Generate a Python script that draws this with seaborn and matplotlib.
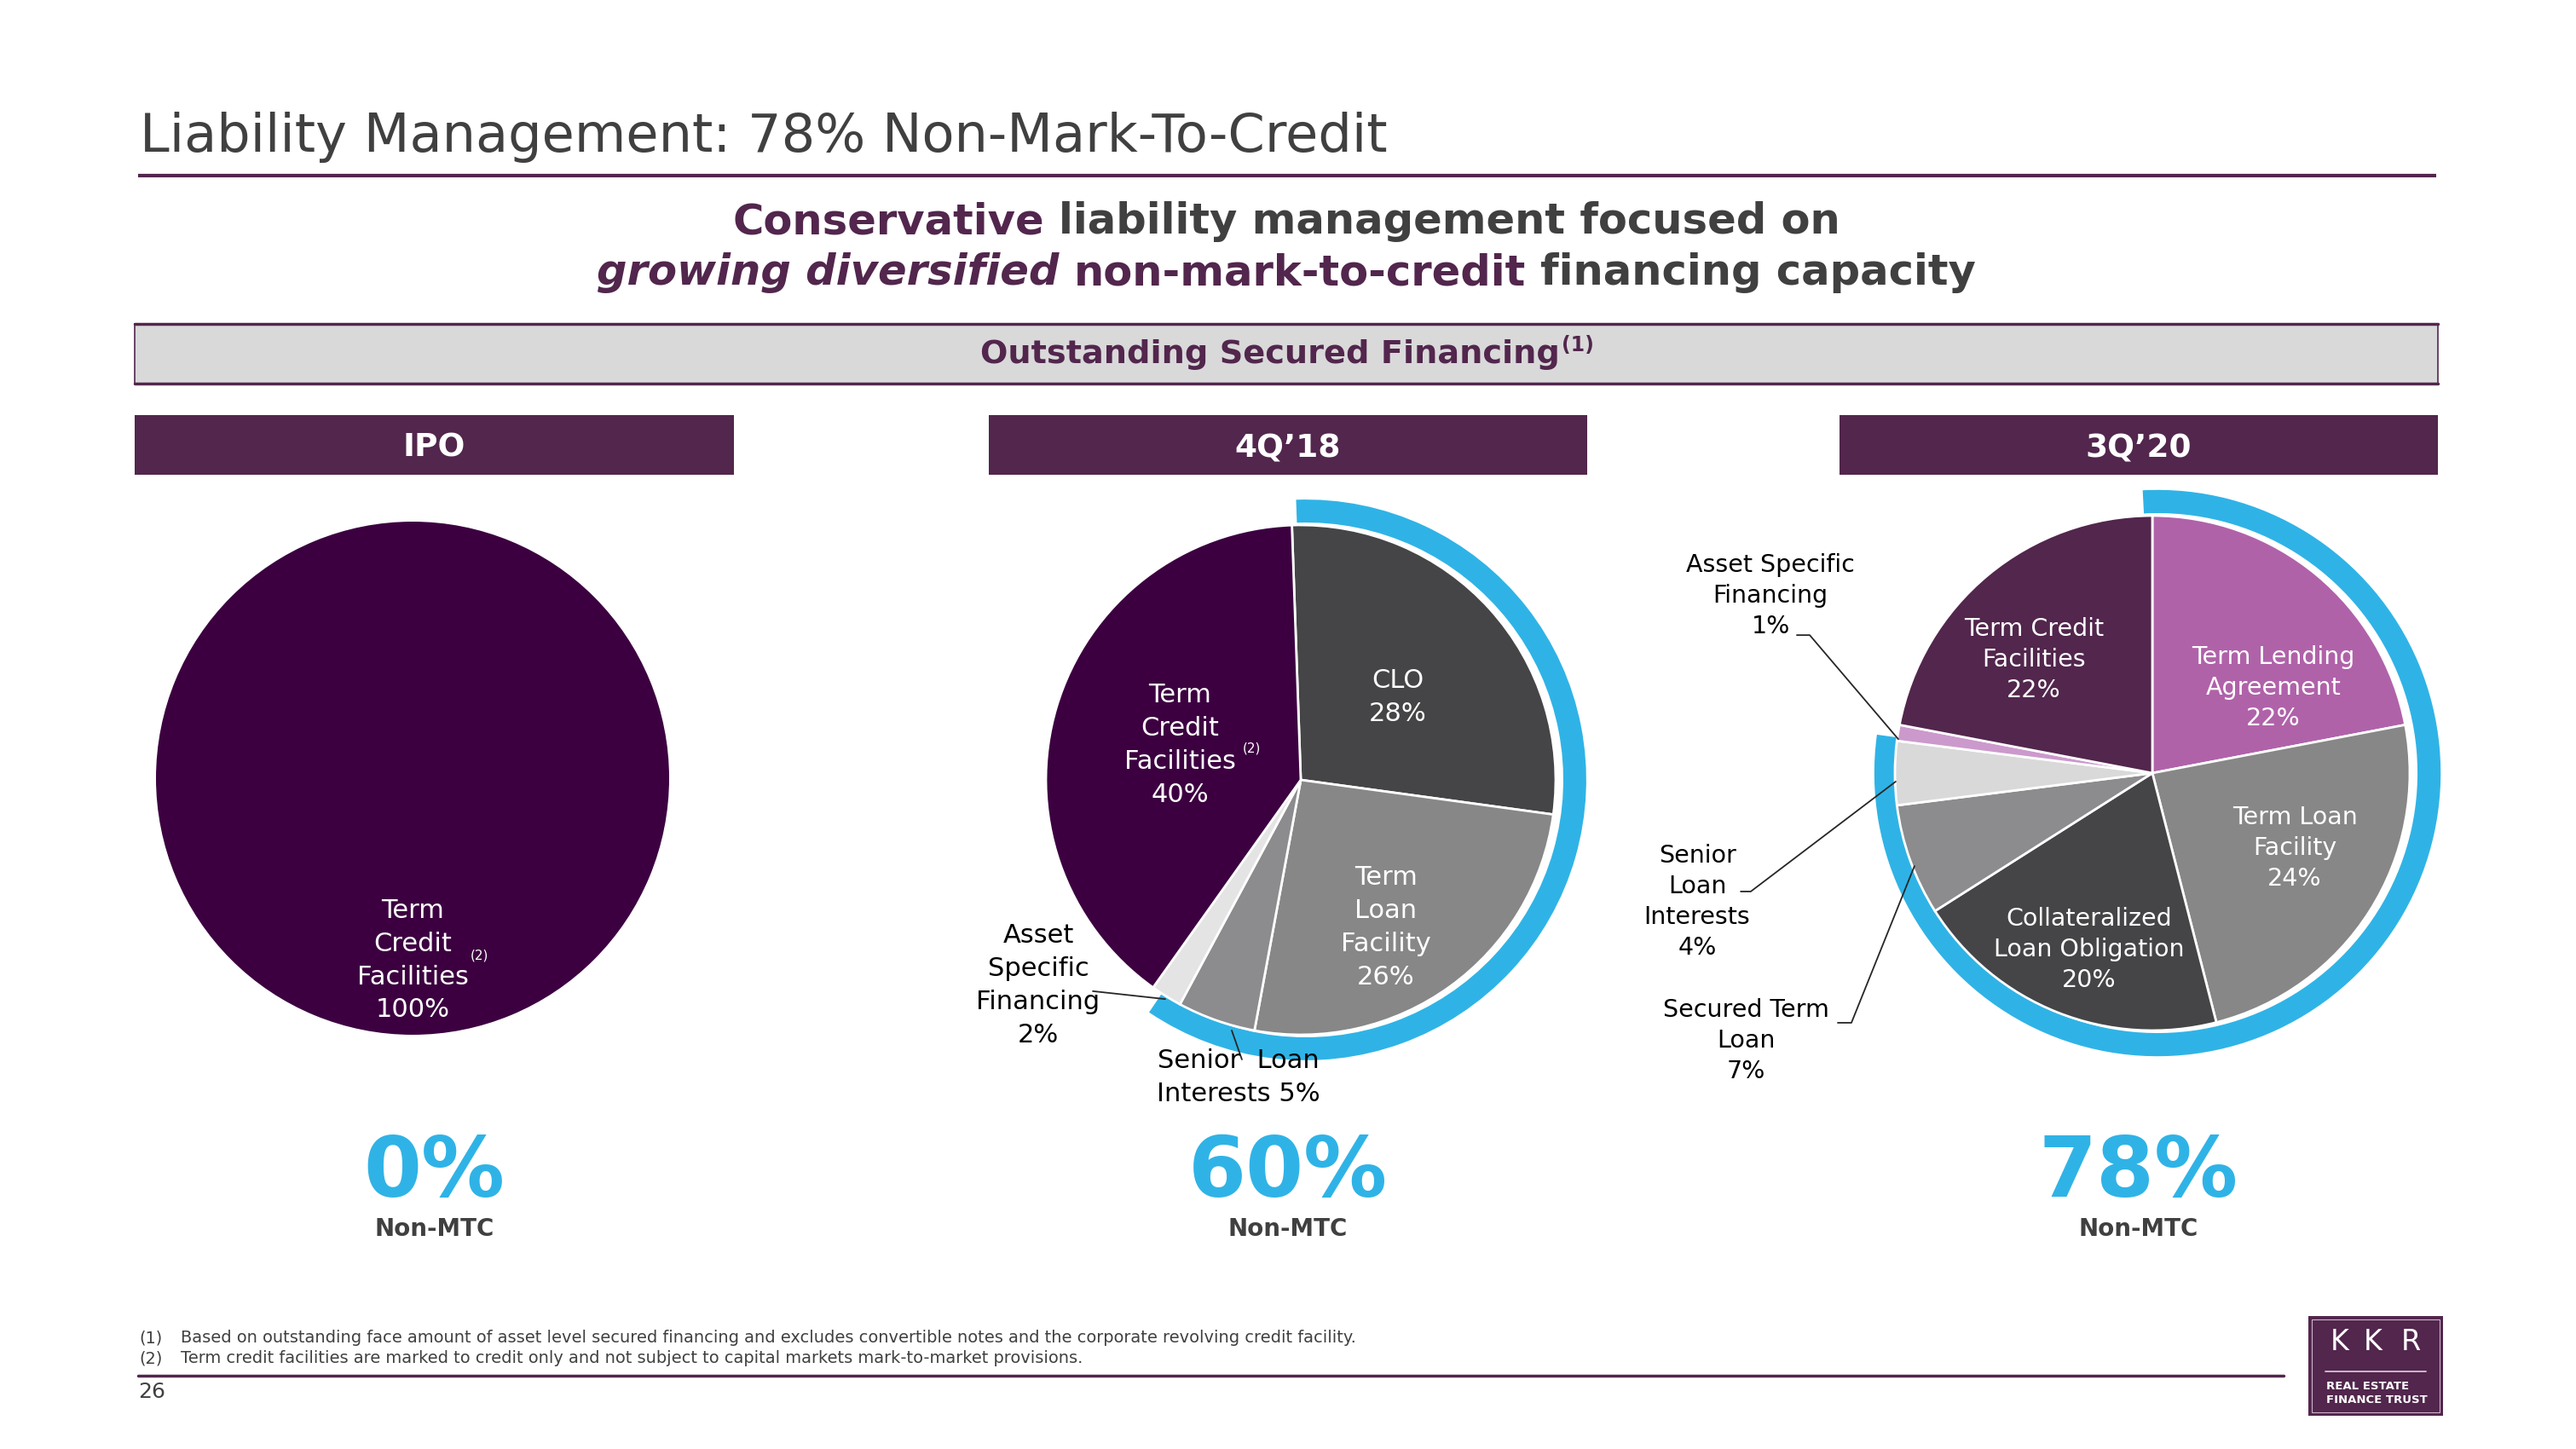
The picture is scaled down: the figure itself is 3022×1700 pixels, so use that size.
import matplotlib
matplotlib.use("Agg")
import matplotlib.pyplot as plt
import seaborn as sns
from matplotlib.patches import Wedge, Rectangle

# ---------------- data ----------------
title_text = "Liability Management: 78% Non-Mark-To-Credit"
box_title = "Outstanding Secured Financing"
periods = ["IPO", "4Q\u201918", "3Q\u201920"]
non_mtc_pct = [0, 60, 78]
non_mtc_caption = "Non-MTC"

ipo_segments = ["Term Credit Facilities"]
ipo_values = [100]
ipo_label_fmt = ["Term\nCredit\nFacilities\n{v}%"]

q418_segments = ["CLO", "Term Loan Facility", "Senior Loan Interests",
                 "Asset Specific Financing", "Term Credit Facilities"]
q418_values = [28, 26, 5, 2, 40]
q418_label_fmt = ["CLO\n{v}%", "Term\nLoan\nFacility\n{v}%",
                  "Senior  Loan\nInterests {v}%",
                  "Asset\nSpecific\nFinancing\n{v}%",
                  "Term\nCredit\nFacilities\n{v}%"]

q320_segments = ["Term Lending Agreement", "Term Loan Facility",
                 "Collateralized Loan Obligation", "Secured Term Loan",
                 "Senior Loan Interests", "Asset Specific Financing",
                 "Term Credit Facilities"]
q320_values = [22, 24, 20, 7, 4, 1, 22]
q320_label_fmt = ["Term Lending\nAgreement\n{v}%", "Term Loan\nFacility\n{v}%",
                  "Collateralized\nLoan Obligation\n{v}%", "Secured Term\nLoan\n{v}%",
                  "Senior\nLoan\nInterests\n{v}%", "Asset Specific\nFinancing\n{v}%",
                  "Term Credit\nFacilities\n{v}%"]

footnote_marks = ["(1)", "(2)"]
footnotes = ["Based on outstanding face amount of asset level secured financing and excludes "
             "convertible notes and the corporate revolving credit facility.",
             "Term credit facilities are marked to credit only and not subject to capital "
             "markets mark-to-market provisions."]
page_number = "26"

# ---------------- style ----------------
sns.set_theme(style="white")
plt.rcParams['font.family'] = ['DejaVu Sans']

PURPLE = "#52264D"
DEEP = "#3C0040"
BLUE = "#2FB3E6"
TXT = "#404040"
ipo_colors = [DEEP]
q418_colors = ["#454547", "#878787", "#8C8C8E", "#E4E4E4", DEEP]
q320_colors = ["#B062A9", "#878787", "#454547", "#8C8C8E", "#D9D9D9", "#CC99CC", PURPLE]

W, H = 3022, 1700
fig = plt.figure(figsize=(W / 100, H / 100), dpi=100)
fig.patch.set_facecolor("white")
bg = fig.add_axes([0, 0, 1, 1])
bg.set_xlim(0, W)
bg.set_ylim(H, 0)
bg.axis('off')
renderer = fig.canvas.get_renderer()


def width_of(s, **kw):
    t = bg.text(0, 0, s, **kw)
    w = t.get_window_extent(renderer=renderer).width
    t.remove()
    return w


def fit(s, target, **kw):
    return 10.0 * target / width_of(s, fontsize=10, **kw)


# ---- title ----
fs_title = fit(title_text, 1465)
bg.text(164, 178, title_text, fontsize=fs_title, color=TXT, ha='left', va='baseline')
bg.plot([162, 2858], [206, 206], color=PURPLE, lw=3, solid_capstyle='butt')

# ---- subtitle (mixed styles) ----
def rich_line(segments, xc, y, fs):
    sp = width_of("a a", fontsize=fs, fontweight='bold') - width_of("aa", fontsize=fs, fontweight='bold')
    ws = [width_of(s, fontsize=fs, fontweight='bold', fontstyle=st) for s, c, st in segments]
    total = sum(ws) + sp * (len(ws) - 1)
    x = xc - total / 2
    for (s, c, st), w in zip(segments, ws):
        bg.text(x, y, s, fontsize=fs, fontweight='bold', fontstyle=st, color=c,
                ha='left', va='baseline')
        x += w + sp

line1 = [("Conservative", PURPLE, 'normal'), ("liability management focused on", TXT, 'normal')]
line2 = [("growing diversified", PURPLE, 'italic'), ("non-mark-to-credit", PURPLE, 'normal'),
         ("financing capacity", TXT, 'normal')]
fs_sub = 35.7
rich_line(line1, 1509, 274, fs_sub)
rich_line(line2, 1509, 334, fs_sub)

# ---- grey banner ----
bg.add_patch(Rectangle((158, 380), 2702, 70, facecolor="#D9D9D9", edgecolor=PURPLE, lw=1.2))
bg.plot([158, 2860], [380, 380], color=PURPLE, lw=2.5)
bg.plot([158, 2860], [450, 450], color=PURPLE, lw=2.5)
fs_box = 27.5
w_main = width_of(box_title, fontsize=fs_box, fontweight='bold')
w_sup = width_of("(1)", fontsize=17, fontweight='bold')
x0 = 1510 - (w_main + w_sup + 3) / 2
bg.text(x0, 426, box_title, fontsize=fs_box, fontweight='bold', color=PURPLE, ha='left', va='baseline')
bg.text(x0 + w_main + 3, 412, "(1)", fontsize=17, fontweight='bold', color=PURPLE, ha='left', va='baseline')

# ---- period headers, big numbers ----
header_x = [(158, 861), (1160, 1862), (2158, 2860)]
for (xa, xb), lab, pct in zip(header_x, periods, non_mtc_pct):
    bg.add_patch(Rectangle((xa, 487), xb - xa, 70, facecolor=PURPLE, edgecolor='none'))
    xc = (xa + xb) / 2
    bg.text(xc, 536, lab, fontsize=27, fontweight='bold', color='white', ha='center', va='baseline')
    bg.text(xc, 1404, f"{pct}%", fontsize=70.5, fontweight='bold', color=BLUE, ha='center', va='baseline')
    bg.text(xc, 1442, non_mtc_caption, fontsize=20, fontweight='bold', color=TXT, ha='center', va='center')

# ---- pies ----
pies = [
    dict(center=(484, 913), R=301, values=ipo_values, colors=ipo_colors, fmt=ipo_label_fmt,
         start=90, ring_start=92, lw=0, fs=22, ls=1.42,
         pos=[(0.0, -0.71)], lc=['white'],
         sup=(0.226, -0.69), leaders=[]),
    dict(center=(1526, 915), R=299, values=q418_values, colors=q418_colors, fmt=q418_label_fmt,
         start=92, ring_start=92, lw=2, fs=22, ls=1.44,
         pos=[(0.381, 0.324), (0.334, -0.579), (-0.244, -1.167), (-1.030, -0.806), (-0.475, 0.137)],
         lc=['white', 'white', 'black', 'black', 'white'],
         sup=(-0.227, 0.125),
         leaders=[[(-0.816, -0.829), (-0.532, -0.860)],
                  [(-0.271, -0.983), (-0.231, -1.097)]]),
    dict(center=(2525, 907), R=302, values=q320_values, colors=q320_colors, fmt=q320_label_fmt,
         start=90, ring_start=93, lw=2, fs=20.5, ls=1.36,
         pos=[(0.470, 0.331), (0.553, -0.291), (-0.245, -0.685), (-1.579, -1.040),
              (-1.768, -0.500), (-1.483, 0.689), (-0.460, 0.440)],
         lc=['white', 'white', 'white', 'black', 'black', 'black', 'white'],
         sup=None,
         leaders=[[(-1.381, 0.536), (-1.331, 0.536), (-0.987, 0.132)],
                  [(-1.599, -0.460), (-1.560, -0.460), (-0.997, -0.033)],
                  [(-1.222, -0.970), (-1.169, -0.970), (-0.924, -0.361)]]),
]

s = 1.6
for i, p in enumerate(pies):
    cx, cy = p['center']
    R = p['R']
    S = 2 * s * R
    ax = fig.add_axes([(cx - S / 2) / W, (H - cy - S / 2) / H, S / W, S / H])
    ax.pie(p['values'], colors=p['colors'], startangle=p['start'], counterclock=False,
           radius=1, wedgeprops=dict(edgecolor='white', linewidth=p['lw']))
    ax.set_xlim(-s, s)
    ax.set_ylim(-s, s)
    ax.axis('off')
    frac = non_mtc_pct[i]
    if frac > 0:
        ax.add_patch(Wedge((0.02, 0.0), 1.10, p['ring_start'] - 3.6 * frac, p['ring_start'],
                           width=0.09, facecolor=BLUE, edgecolor='none', zorder=0))
    for (x, y), fmt, v, c in zip(p['pos'], p['fmt'], p['values'], p['lc']):
        ax.text(x, y, fmt.format(v=v), ha='center', va='center', color=c, fontsize=p['fs'],
                linespacing=p['ls'], multialignment='center', clip_on=False)
    if p['sup'] is not None:
        ax.text(p['sup'][0], p['sup'][1], "(2)", ha='left', va='center', color='white',
                fontsize=11, clip_on=False)
    for pts in p['leaders']:
        xs, ys = zip(*pts)
        ax.plot(xs, ys, color='#262626', lw=1.3, clip_on=False)

# ---- footnotes ----
fs_fn = fit(footnotes[0], 1376)
for k, (m, t) in enumerate(zip(footnote_marks, footnotes)):
    yb = 1575 + 24 * k
    bg.text(163, yb, m, fontsize=fs_fn, color=TXT, ha='left', va='baseline')
    bg.text(212, yb, t, fontsize=fs_fn, color=TXT, ha='left', va='baseline')
bg.plot([162, 2679], [1614, 1614], color=PURPLE, lw=2.5)
bg.text(162, 1633, page_number, fontsize=18, color=TXT, ha='left', va='center')

# ---- logo ----
bg.add_patch(Rectangle((2708, 1544), 158, 117, facecolor=PURPLE, edgecolor='none'))
bg.add_patch(Rectangle((2712, 1548), 150, 109, fill=False, edgecolor='#CFB5CC', lw=0.8))
for ch, xx in zip("KKR", [2745, 2784, 2828]):
    bg.text(xx, 1574, ch, fontsize=24, color='white', ha='center', va='center')
bg.plot([2728, 2846], [1609, 1609], color='#D9C2D6', lw=1.3)
bg.text(2729, 1627, "REAL ESTATE", fontsize=9.5, fontweight='bold', color='white', ha='left', va='center')
bg.text(2729, 1643, "FINANCE TRUST", fontsize=9.5, fontweight='bold', color='white', ha='left', va='center')

fig.savefig("out.png", dpi=100, facecolor='white')
